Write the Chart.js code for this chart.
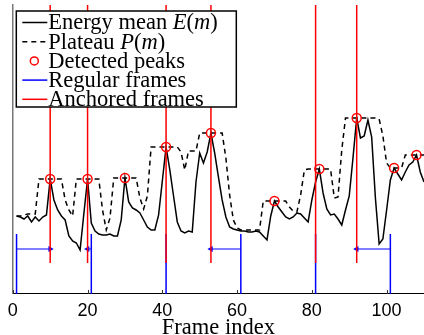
<!DOCTYPE html>
<html lang="en">
<head>
  <meta charset="UTF-8" />
  <title>Energy mean and anchored frames</title>
  <style>
    body {
      margin: 0;
      padding: 0;
      background: #fff;
    }

    .chart-box {
      position: relative;
      width: 424px;
      height: 335px;
    }
  </style>
  <script src="https://cdn.jsdelivr.net/npm/chart.js"></script>
</head>
<body>

  <div class="chart-box">
    <canvas id="frameChart"></canvas>
  </div>

  <script>
    // energy mean E(m), one value per frame, starting at frame 1
    const firstFrame = 1;
    const energy = [
      78, 77, 75, 78, 72, 77, 73, 77, 79, 115,
      94, 84, 78, 74, 58, 53, 51, 44, 80, 115,
      71, 63, 60, 59, 59, 60, 58, 58, 74, 116,
      92, 86, 84, 81, 74, 67, 64, 64, 79, 113,
      147, 124, 98, 72, 63, 61, 63, 62, 112, 141,
      131, 142, 161, 141, 117, 94, 77, 67, 65, 64,
      63, 63, 62, 62, 63, 62, 58, 54, 78, 93,
      87, 82, 77, 75, 77, 81, 80, 76, 72, 94,
      112, 125, 101, 85, 79, 80, 75, 69, 84, 98,
      136, 176, 156, 158, 174, 157, 96, 50, 55, 84,
      114, 126, 120, 114, 122, 129, 132, 139, 122, 112
    ];
    // plateau P(m)
    const plateau = [
      78, 78, 79, 80, 80, 80, 115, 115, 115, 115,
      115, 115, 115, 94, 84, 78, 115, 115, 115, 115,
      115, 115, 115, 84, 64, 76, 116, 116, 116, 116,
      116, 116, 116, 96, 85, 98, 147, 147, 147, 147,
      147, 147, 147, 147, 142, 124, 143, 143, 143, 161,
      161, 161, 161, 161, 161, 161, 136, 99, 74, 66,
      64, 64, 64, 64, 64, 64, 93, 93, 93, 93,
      93, 93, 93, 87, 83, 82, 99, 124, 125, 125,
      125, 125, 125, 125, 125, 96, 97, 144, 176, 176,
      176, 176, 176, 176, 176, 176, 176, 175, 158, 131,
      126, 126, 126, 126, 139, 139, 139, 139, 139, 139
    ];
    const peakFrames = [10, 20, 30, 41, 53, 70, 82, 92, 102, 108];
    const anchoredFrames = [10, 20, 41, 53, 81, 92];
    const regularFrames = [1, 21, 41, 61, 81, 101];
    const arrowFrom = [1, 21, 61, 101];
    const arrowTo = [10, 20, 53, 92];
    const xTicks = [0, 20, 40, 60, 80, 100];

    const yTop = 289;
    const anchoredBottom = 31;
    const regularTop = 60;
    const arrowLevel = 45;

    const curve = arr => arr.map((v, i) => ({ x: i + firstFrame, y: v }));
    const energyAt = f => energy[f - firstFrame];

    function verticals(list, y0, y1) {
      const pts = [];
      list.forEach(f => {
        pts.push({ x: f, y: y0 }, { x: f, y: y1 }, { x: f, y: null });
      });
      return pts;
    }

    const arrowPts = [];
    arrowFrom.forEach((f, i) => {
      const t = arrowTo[i];
      arrowPts.push({ x: f, y: arrowLevel }, { x: t, y: arrowLevel, head: t > f ? 90 : -90 }, { x: t, y: null });
    });

    // legend box + inward tick marks
    const overlay = {
      id: 'overlay',
      afterDraw(chart) {
        const { ctx, chartArea } = chart;
        const xs = chart.scales.x;
        ctx.save();
        ctx.strokeStyle = '#333';
        ctx.lineWidth = 1;
        xTicks.forEach(v => {
          const px = Math.round(xs.getPixelForValue(v)) + 0.5;
          ctx.beginPath();
          ctx.moveTo(px, chartArea.bottom);
          ctx.lineTo(px, chartArea.bottom - 4);
          ctx.stroke();
        });

        const bx = chartArea.left + 3.5, by = chartArea.top + 6;
        const bw = 220, bh = 96;
        ctx.fillStyle = '#fff';
        ctx.fillRect(bx, by, bw, bh);
        ctx.strokeStyle = '#000';
        ctx.lineWidth = 1.5;
        ctx.strokeRect(bx, by, bw, bh);

        const rows = [
          { kind: 'line', color: '#000', parts: [['Energy mean ', 0], ['E', 1], ['(', 0], ['m', 1], [')', 0]] },
          { kind: 'dash', color: '#000', parts: [['Plateau ', 0], ['P', 1], ['(', 0], ['m', 1], [')', 0]] },
          { kind: 'circle', color: '#ff0000', parts: [['Detected peaks', 0]] },
          { kind: 'line', color: '#0000ff', parts: [['Regular frames', 0]] },
          { kind: 'line', color: '#ff0000', parts: [['Anchored frames', 0]] }
        ];
        const sx0 = bx + 6, sx1 = bx + 31, tx = bx + 32;
        rows.forEach((r, i) => {
          const y = by + 11.5 + i * 19.2;
          ctx.strokeStyle = r.color;
          ctx.lineWidth = 1.5;
          if (r.kind === 'circle') {
            ctx.beginPath();
            ctx.arc(sx0 + 12, y, 4, 0, Math.PI * 2);
            ctx.stroke();
          } else {
            ctx.setLineDash(r.kind === 'dash' ? [5, 4] : []);
            ctx.beginPath();
            ctx.moveTo(sx0, y);
            ctx.lineTo(sx1, y);
            ctx.stroke();
            ctx.setLineDash([]);
          }
          let x = tx;
          ctx.fillStyle = '#000';
          ctx.textBaseline = 'middle';
          r.parts.forEach(([s, it]) => {
            ctx.font = (it ? 'italic ' : '') + '22.5px "Liberation Serif"';
            ctx.fillText(s, x, y + 1);
            x += ctx.measureText(s).width;
          });
        });
        ctx.restore();
      }
    };

    new Chart(document.getElementById('frameChart'), {
      type: 'line',
      data: {
        datasets: [
          {
            label: 'Detected peaks',
            data: peakFrames.map(f => ({ x: f, y: energyAt(f) })),
            showLine: false,
            pointStyle: 'circle',
            pointRadius: 4.5,
            pointBorderWidth: 1.5,
            pointBorderColor: '#ff0000',
            pointBackgroundColor: 'rgba(0,0,0,0)'
          },
          {
            label: 'Anchored frames',
            data: verticals(anchoredFrames, yTop, anchoredBottom),
            borderColor: '#ff0000',
            borderWidth: 1.5,
            pointRadius: 0,
            spanGaps: false
          },
          {
            label: 'Regular frames',
            data: verticals(regularFrames, 0, regularTop),
            borderColor: '#0000ff',
            borderWidth: 1.5,
            pointRadius: 0,
            spanGaps: false
          },
          {
            label: 'arrows',
            data: arrowPts,
            borderColor: '#0000ff',
            backgroundColor: '#0000ff',
            borderWidth: 1.2,
            spanGaps: false,
            pointStyle: 'triangle',
            pointRadius: c => (c.raw && c.raw.head ? 3.5 : 0),
            pointRotation: c => (c.raw && c.raw.head ? c.raw.head : 0),
            pointBackgroundColor: '#0000ff',
            pointBorderWidth: 0
          },
          {
            label: 'Energy mean',
            data: curve(energy),
            borderColor: '#000',
            borderWidth: 1.5,
            pointRadius: 0,
            tension: 0
          },
          {
            label: 'Plateau',
            data: curve(plateau),
            borderColor: '#000',
            borderWidth: 1.5,
            borderDash: [5, 4],
            pointRadius: 0,
            tension: 0
          }
        ]
      },
      options: {
        responsive: true,
        maintainAspectRatio: false,
        animation: false,
        layout: { autoPadding: false, padding: { left: 11.7, top: 5, right: 0, bottom: 0 } },
        plugins: {
          legend: { display: false },
          tooltip: { enabled: false }
        },
        scales: {
          x: {
            type: 'linear',
            min: 0,
            max: 110,
            afterBuildTicks: s => { s.ticks = xTicks.map(v => ({ value: v })); },
            ticks: {
              font: { family: '"Liberation Sans"', size: 18, lineHeight: 1 },
              color: '#000',
              padding: 7.8,
              maxRotation: 0
            },
            grid: { display: false, drawTicks: false },
            border: { display: true, color: '#000', width: 1 },
            title: {
              display: true,
              text: 'Frame index',
              font: { family: '"Liberation Serif"', size: 22.5, lineHeight: 0.07 },
              color: '#000',
              padding: { top: 0, bottom: 5.85 }
            }
          },
          y: {
            min: 0,
            max: yTop,
            ticks: { display: false },
            grid: { display: false, drawTicks: false },
            border: { display: true, color: '#777', width: 1.5 }
          }
        }
      },
      plugins: [overlay]
    });
  </script>

</body>
</html>
